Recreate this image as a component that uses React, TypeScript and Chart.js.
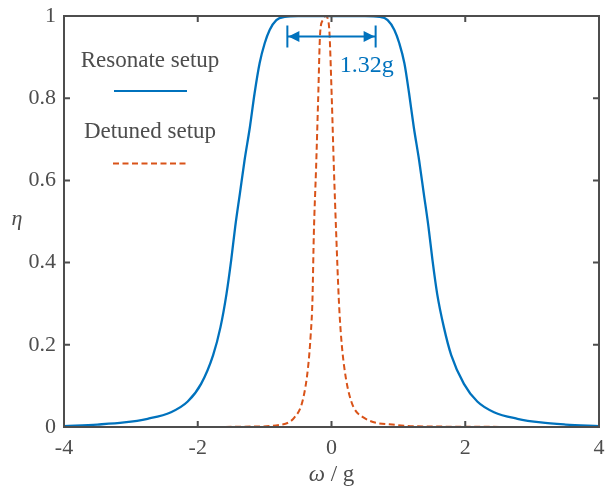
import React, { useEffect, useRef } from "react";
import { Chart, registerables } from "chart.js";

Chart.register(...registerables);

// ---- data ----
const X_TICKS = [-4, -2, 0, 2, 4];
const Y_TICKS = [0, 0.2, 0.4, 0.6, 0.8, 1];
const Y_TICK_LABELS = ["0", "0.2", "0.4", "0.6", "0.8", "1"];

const SERIES_LABELS = ["Resonate setup", "Detuned setup"];

const resonateX = [
  -4, -3.5, -3.1, -2.75, -2.4, -2.15, -1.95, -1.77, -1.66, -1.57, -1.5, -1.44, -1.37, -1.3, -1.22,
  -1.15, -1.075, -1.0, -0.925, -0.825, -0.7, -0.5, 0, 0.5, 0.72, 0.84, 0.94, 1.015, 1.09, 1.16,
  1.23, 1.31, 1.38, 1.45, 1.51, 1.58, 1.68, 1.79, 1.98, 2.18, 2.43, 2.78, 3.13, 3.5, 4,
];
const resonateY = [
  0.002, 0.006, 0.011, 0.02, 0.036, 0.062, 0.105, 0.175, 0.243, 0.324, 0.406, 0.487, 0.568, 0.649,
  0.73, 0.812, 0.885, 0.933, 0.966, 0.99, 0.998, 1.0, 1.0, 1.0, 0.998, 0.99, 0.966, 0.933, 0.885,
  0.812, 0.73, 0.649, 0.568, 0.487, 0.406, 0.324, 0.243, 0.175, 0.105, 0.062, 0.036, 0.02, 0.011,
  0.006, 0.002,
];

const detunedX = [
  -4, -2, -1.2, -0.78, -0.55, -0.43, -0.35, -0.31, -0.285, -0.264, -0.23, -0.2, -0.17, -0.13, -0.09,
  -0.05, -0.03, 0.005, 0.035, 0.07, 0.11, 0.14, 0.19, 0.29, 0.47, 0.97, 1.6, 4,
];
const detunedY = [
  0, 0, 0.001, 0.005, 0.024, 0.065, 0.146, 0.227, 0.308, 0.471, 0.633, 0.795, 0.958, 0.99, 1.0,
  0.99, 0.958, 0.795, 0.633, 0.471, 0.308, 0.227, 0.146, 0.065, 0.024, 0.005, 0.001, 0,
];

const BANDWIDTH = 1.32; // width marked by the arrow, in units of g
const BANDWIDTH_LABEL = "1.32g";

// ---- styles ----
const BLUE = "#0072BD";
const RED = "#D95319";
const AXIS = "#4d4d4d";
const FONT = "'Liberation Serif', 'Times New Roman', serif";

const overlay = {
  id: "overlay",
  afterDraw(chart: any) {
    const { ctx, chartArea: a, scales } = chart;
    const xs = scales.x;
    const ys = scales.y;
    ctx.save();

    // box
    ctx.strokeStyle = AXIS;
    ctx.lineWidth = 2;
    ctx.strokeRect(a.left, a.top, a.right - a.left, a.bottom - a.top);

    // inward ticks on all four sides
    const T = 6;
    ctx.beginPath();
    X_TICKS.forEach((v) => {
      const px = xs.getPixelForValue(v);
      ctx.moveTo(px, a.bottom);
      ctx.lineTo(px, a.bottom - T);
      ctx.moveTo(px, a.top);
      ctx.lineTo(px, a.top + T);
    });
    Y_TICKS.forEach((v) => {
      const py = ys.getPixelForValue(v);
      ctx.moveTo(a.left, py);
      ctx.lineTo(a.left + T, py);
      ctx.moveTo(a.right, py);
      ctx.lineTo(a.right - T, py);
    });
    ctx.stroke();

    // axis titles
    ctx.fillStyle = AXIS;
    ctx.textBaseline = "alphabetic";
    ctx.textAlign = "center";
    ctx.font = `italic 22px ${FONT}`;
    ctx.fillText("\u03B7", 17, 225);

    const cx = (a.left + a.right) / 2;
    ctx.font = `italic 23px ${FONT}`;
    const wOmega = ctx.measureText("\u03C9").width;
    ctx.font = `23px ${FONT}`;
    const rest = " / g";
    const wRest = ctx.measureText(rest).width;
    const startX = cx - (wOmega + wRest) / 2;
    ctx.textAlign = "left";
    ctx.font = `italic 23px ${FONT}`;
    ctx.fillText("\u03C9", startX, 481);
    ctx.font = `23px ${FONT}`;
    ctx.fillText(rest, startX + wOmega, 481);

    // legend
    ctx.textAlign = "center";
    ctx.font = `23px ${FONT}`;
    ctx.fillStyle = AXIS;
    ctx.fillText(SERIES_LABELS[0], 150, 67);
    ctx.fillText(SERIES_LABELS[1], 150, 138);
    ctx.lineWidth = 2.2;
    ctx.strokeStyle = BLUE;
    ctx.setLineDash([]);
    ctx.beginPath();
    ctx.moveTo(114, 91);
    ctx.lineTo(187, 91);
    ctx.stroke();
    ctx.strokeStyle = RED;
    ctx.lineWidth = 2;
    ctx.setLineDash([6, 3.5]);
    ctx.beginPath();
    ctx.moveTo(113, 163.5);
    ctx.lineTo(188, 163.5);
    ctx.stroke();
    ctx.setLineDash([]);

    // bandwidth arrow
    const xl = xs.getPixelForValue(-BANDWIDTH / 2);
    const xr = xs.getPixelForValue(BANDWIDTH / 2);
    const ay = ys.getPixelForValue(0.95);
    ctx.strokeStyle = BLUE;
    ctx.fillStyle = BLUE;
    ctx.lineWidth = 2;
    ctx.beginPath();
    ctx.moveTo(xl, ay);
    ctx.lineTo(xr, ay);
    ctx.moveTo(xl, ay - 11);
    ctx.lineTo(xl, ay + 11);
    ctx.moveTo(xr, ay - 11);
    ctx.lineTo(xr, ay + 11);
    ctx.stroke();
    const L = 11, H = 5.5;
    ctx.beginPath();
    ctx.moveTo(xl + 1, ay);
    ctx.lineTo(xl + 1 + L, ay - H);
    ctx.lineTo(xl + 1 + L, ay + H);
    ctx.closePath();
    ctx.fill();
    ctx.beginPath();
    ctx.moveTo(xr - 1, ay);
    ctx.lineTo(xr - 1 - L, ay - H);
    ctx.lineTo(xr - 1 - L, ay + H);
    ctx.closePath();
    ctx.fill();
    ctx.font = `24px ${FONT}`;
    ctx.textAlign = "center";
    ctx.fillText(BANDWIDTH_LABEL, xr - 9, ay + 35);

    ctx.restore();
  },
};

export default function App() {
  const ref = useRef<HTMLCanvasElement | null>(null);

  useEffect(() => {
    if (!ref.current) return;
    const chart = new Chart(ref.current, {
      type: "line",
      data: {
        datasets: [
          {
            label: SERIES_LABELS[0],
            data: resonateX.map((x, i) => ({ x, y: resonateY[i] })),
            borderColor: BLUE,
            borderWidth: 2.3,
            pointRadius: 0,
            cubicInterpolationMode: "monotone",
            fill: false,
          },
          {
            label: SERIES_LABELS[1],
            data: detunedX.map((x, i) => ({ x, y: detunedY[i] })),
            borderColor: RED,
            borderWidth: 2,
            borderDash: [6, 3.5],
            pointRadius: 0,
            cubicInterpolationMode: "monotone",
            fill: false,
          },
        ],
      },
      options: {
        animation: false,
        responsive: true,
        maintainAspectRatio: false,
        layout: { padding: { left: 0, top: 16, right: 7, bottom: 0 } },
        plugins: { legend: { display: false }, tooltip: { enabled: false } },
        scales: {
          x: {
            type: "linear",
            min: -4,
            max: 4,
            afterBuildTicks: (s: any) => {
              s.ticks = X_TICKS.map((v) => ({ value: v }));
            },
            afterFit: (s: any) => {
              s.height = 65;
              s.paddingLeft = 0;
              s.paddingRight = 0;
            },
            ticks: {
              font: { family: FONT, size: 22 },
              color: AXIS,
              padding: 8,
              maxRotation: 0,
              callback: (v: any) => String(v),
            },
            grid: { display: false, drawTicks: false },
            border: { display: false },
          },
          y: {
            type: "linear",
            min: 0,
            max: 1,
            afterBuildTicks: (s: any) => {
              s.ticks = Y_TICKS.map((v) => ({ value: v }));
            },
            afterFit: (s: any) => {
              s.width = 64;
              s.paddingTop = 0;
              s.paddingBottom = 0;
            },
            ticks: {
              font: { family: FONT, size: 22 },
              color: AXIS,
              padding: 8,
              callback: (v: any) => {
                const i = Y_TICKS.findIndex((t) => Math.abs(t - Number(v)) < 1e-9);
                return i >= 0 ? Y_TICK_LABELS[i] : "";
              },
            },
            grid: { display: false, drawTicks: false },
            border: { display: false },
          },
        },
      },
      plugins: [overlay],
    } as any);
    return () => chart.destroy();
  }, []);

  return (
    <div style={{ position: "absolute", left: 0, top: 0, width: 606, height: 492, background: "#fff" }}>
      <canvas ref={ref} />
    </div>
  );
}
